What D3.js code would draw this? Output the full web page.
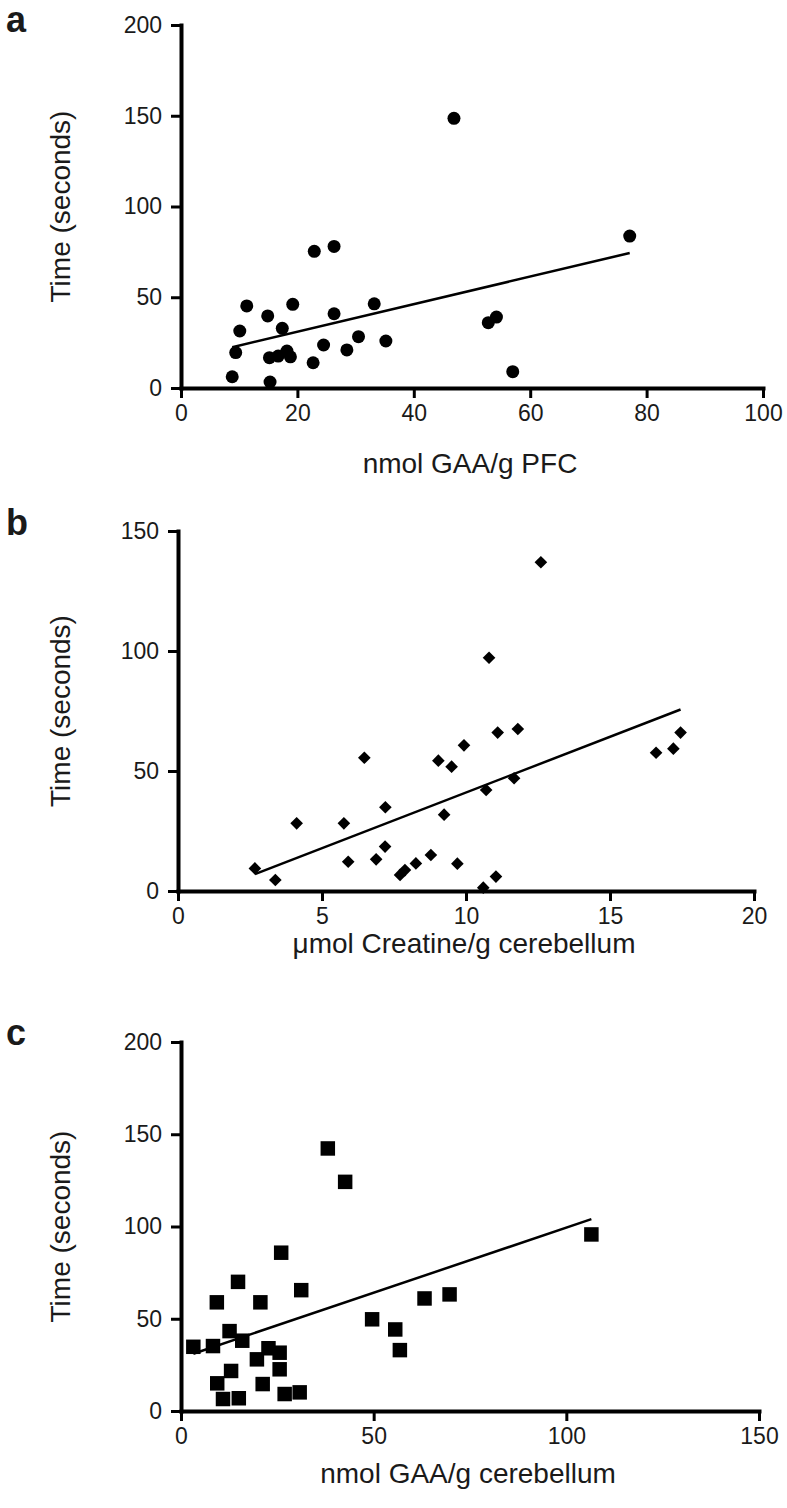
<!DOCTYPE html>
<html>
<head>
<meta charset="utf-8">
<script src="https://cdn.jsdelivr.net/npm/d3@7"></script>
<style>
  body { margin: 0; background: #fff; }
  text { font-family: "Liberation Sans", Arial, sans-serif; fill: #1a1a1a; }
</style>
</head>
<body>
<div id="chart"></div>
<script>
// panel a: nmol GAA/g PFC vs time
var pfcGaa  = [46.9, 77.1, 22.9, 26.3, 11.3, 19.2, 14.9, 26.3, 33.2, 10.1, 17.4, 9.4, 15.2, 16.7, 18.2, 18.8, 24.5, 28.5, 30.5, 35.2, 22.7, 8.8, 15.3, 52.8, 54.2, 57.0];
var pfcTime = [148.6, 83.7, 75.3, 78.0, 45.2, 46.1, 39.7, 40.9, 46.4, 31.4, 32.9, 19.5, 16.7, 17.6, 20.4, 17.2, 23.7, 21.0, 28.3, 25.9, 13.9, 6.2, 3.3, 36.0, 39.1, 9.0];
var pfcFit  = [15.8, 0.76];   // intercept, slope

// panel b: umol creatine/g cerebellum vs time
var cbCreatine = [12.6, 10.8, 6.47, 9.04, 9.5, 9.93, 11.1, 11.8, 4.12, 5.76, 7.2, 9.24, 10.7, 11.67, 7.19, 5.91, 6.88, 2.67, 3.38, 7.71, 7.88, 8.26, 8.78, 9.7, 11.04, 10.6, 16.6, 17.2, 17.45];
var cbCrTime   = [137, 97.2, 55.5, 54.3, 51.8, 60.7, 66, 67.5, 28.2, 28.2, 34.9, 31.8, 42.1, 47, 18.5, 12.2, 13.2, 9.4, 4.6, 6.7, 8.7, 11.5, 15, 11.4, 6, 1.4, 57.6, 59.3, 66];
var cbCrFit    = [-5.35, 4.64];

// panel c: nmol GAA/g cerebellum vs time
var cbGaa     = [38.1, 42.6, 26, 14.8, 31.2, 9.3, 20.6, 63.2, 69.7, 49.6, 55.6, 56.8, 12.6, 15.9, 3.2, 8.3, 22.7, 25.6, 19.7, 25.6, 13, 9.4, 21.2, 10.9, 15, 26.9, 30.8, 106.5];
var cbGaaTime = [142.3, 124.2, 85.8, 70, 65.5, 58.9, 58.9, 61, 63.2, 49.7, 44.2, 33, 43.3, 38.1, 34.8, 35.2, 34, 31.6, 28, 22.6, 21.7, 15, 14.6, 6.5, 6.9, 9.2, 10.1, 95.7];
var cbGaaFit  = [28.8, 0.706];

var xTicksA = [0, 20, 40, 60, 80, 100], yTicksA = [0, 50, 100, 150, 200];
var xTicksB = [0, 5, 10, 15, 20],       yTicksB = [0, 50, 100, 150];
var xTicksC = [0, 50, 100, 150],        yTicksC = [0, 50, 100, 150, 200];

var width = 787, height = 1508;
var svg = d3.select("#chart").append("svg")
    .attr("width", width).attr("height", height);

var panels = [
  {label: "a", xs: pfcGaa, ys: pfcTime, fit: pfcFit, xTicks: xTicksA, yTicks: yTicksA,
   xTitle: "nmol GAA/g PFC", marker: "circle",
   left: 181, right: 763, top: 25, bottom: 388, labelY: 32, titleY: 473},
  {label: "b", xs: cbCreatine, ys: cbCrTime, fit: cbCrFit, xTicks: xTicksB, yTicks: yTicksB,
   xTitle: "\u03bcmol Creatine/g cerebellum", marker: "diamond",
   left: 178, right: 754, top: 531, bottom: 891, labelY: 535, titleY: 953},
  {label: "c", xs: cbGaa, ys: cbGaaTime, fit: cbGaaFit, xTicks: xTicksC, yTicks: yTicksC,
   xTitle: "nmol GAA/g cerebellum", marker: "square",
   left: 181, right: 759, top: 1042, bottom: 1411, labelY: 1045, titleY: 1483}
];

panels.forEach(function(p){
  var x = d3.scaleLinear()
      .domain(d3.extent(p.xTicks))
      .range([p.left, p.right]);
  var y = d3.scaleLinear()
      .domain(d3.extent(p.yTicks))
      .range([p.bottom, p.top]);
  var g = svg.append("g").attr("class", "panel");

  // axes
  var xa = g.append("g")
      .attr("transform", "translate(0," + p.bottom + ")")
      .call(d3.axisBottom(x).tickValues(p.xTicks).tickSize(10).tickSizeOuter(0).tickPadding(7));
  var ya = g.append("g")
      .attr("transform", "translate(" + p.left + ",0)")
      .call(d3.axisLeft(y).tickValues(p.yTicks).tickSize(10).tickSizeOuter(0).tickPadding(9));
  [xa, ya].forEach(function(a){
    a.select(".domain").attr("stroke", "#000").attr("stroke-width", 4).attr("stroke-linecap", "square");
    a.selectAll(".tick line").attr("stroke", "#000").attr("stroke-width", 3);
    a.selectAll(".tick text")
      .style("font-family", "'Liberation Sans', Arial, sans-serif")
      .style("font-size", "23px").attr("fill", "#1a1a1a");
  });

  // regression line
  var xr = [d3.min(p.xs), d3.max(p.xs)];
  g.append("path")
      .datum(xr)
      .attr("d", d3.line()
        .x(function(d){ return x(d); })
        .y(function(d){ return y(p.fit[0] + p.fit[1] * d); }))
      .attr("fill", "none").attr("stroke", "#000").attr("stroke-width", 2.5);

  // points
  var sym = {
    circle:  d3.symbol().type(d3.symbolCircle).size(Math.PI * 6.5 * 6.5),
    diamond: d3.symbol().type(d3.symbolSquare).size(80),
    square:  d3.symbol().type(d3.symbolSquare).size(210)
  }[p.marker];
  var rot = p.marker === "diamond" ? " rotate(45)" : "";
  g.selectAll(".pt")
      .data(d3.range(p.xs.length)).enter().append("path")
      .attr("class", "pt")
      .attr("d", sym)
      .attr("transform", function(i){
        return "translate(" + x(p.xs[i]) + "," + y(p.ys[i]) + ")" + rot;
      })
      .attr("fill", "#000");

  // titles
  g.append("text")
      .attr("transform", "translate(70," + (p.top + p.bottom) / 2 + ") rotate(-90)")
      .attr("text-anchor", "middle")
      .style("font-size", "28px")
      .text("Time (seconds)");
  g.append("text")
      .attr("x", (p.left + p.right) / 2 - 2)
      .attr("y", p.titleY)
      .attr("text-anchor", "middle")
      .style("font-size", "28px")
      .text(p.xTitle);
  g.append("text")
      .attr("x", 6)
      .attr("y", p.labelY)
      .style("font-size", "36px")
      .style("font-weight", "bold")
      .attr("fill", "#000")
      .text(p.label);
});
</script>
</body>
</html>
